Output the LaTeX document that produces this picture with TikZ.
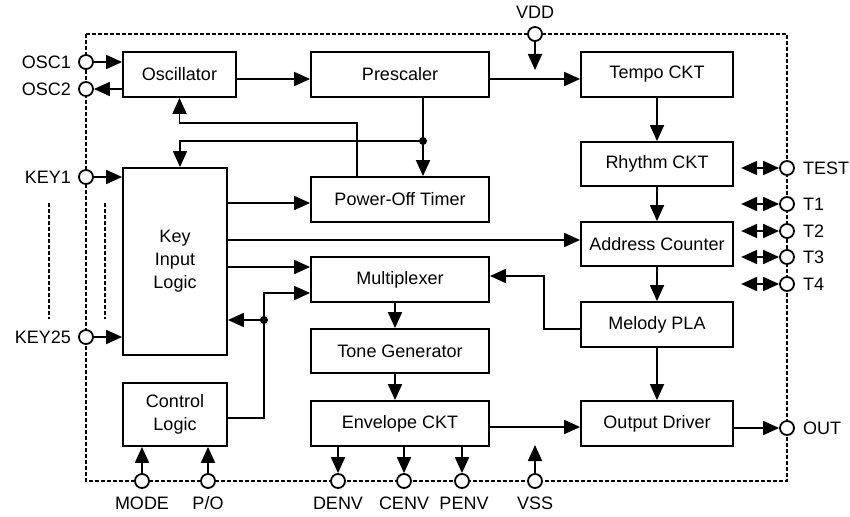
\documentclass[tikz,border=0pt]{standalone}
\usepackage{fontspec}
\setmainfont{Liberation Sans}
\usetikzlibrary{calc,arrows.meta}

\begin{document}
\begin{tikzpicture}[x=1pt,y=-1pt,line width=1.8pt,font=\fontsize{18}{23}\selectfont,
  blk/.style={draw,align=center,inner sep=0pt},
  pin/.style={draw,circle,fill=white,minimum size=14pt,inner sep=0pt},
  arr/.style={-{Triangle[length=16pt,width=14pt]}},
  biarr/.style={{Triangle[length=16pt,width=14pt]}-{Triangle[length=16pt,width=14pt]}},
  chipedge/.style={line width=1.5pt,dash pattern=on 4pt off 2pt}]
\useasboundingbox (0,0) rectangle (850,516);
% the chip outline
\draw[chipedge] (86,34) rectangle (787,481);
\draw[chipedge] (49,203) -- (49,319); \draw[chipedge] (105,203) -- (105,319);
% blocks
\node[blk,minimum width=113pt,minimum height=45pt] (osc) at (179.5,74.5) {Oscillator};
\node[blk,minimum width=178pt,minimum height=45pt] (pre) at (400,74.5) {Prescaler};
\node[blk,minimum width=152pt,minimum height=45pt] (tempo) at (657,74.5) {Tempo CKT};
\node[blk,minimum width=152pt,minimum height=44pt] (rhythm) at (657,164) {Rhythm CKT};
\node[blk,minimum width=178pt,minimum height=45pt] (pot) at (400,199.5) {Power-Off Timer};
\node[blk,minimum width=104pt,minimum height=187pt] (kil) at (175,261.5) {Key\\Input\\Logic};
\node[blk,minimum width=152pt,minimum height=44pt] (addr) at (657,244) {Address Counter};
\node[blk,minimum width=178pt,minimum height=45pt] (mux) at (400,279.5) {Multiplexer};
\node[blk,minimum width=152pt,minimum height=45pt] (mpla) at (657,324.5) {Melody PLA};
\node[blk,minimum width=178pt,minimum height=44pt] (tone) at (400,351) {Tone Generator};
\node[blk,minimum width=178pt,minimum height=45pt] (env) at (400,423.5) {Envelope CKT};
\node[blk,minimum width=152pt,minimum height=45pt] (outdrv) at (657,423.5) {Output Driver};
\node[blk,minimum width=104pt,minimum height=63pt] (ctrl) at (175,414.5) {Control\\Logic};
% pins on the outline
\node[pin] (osc1) at (86,62) {}; \node[anchor=east,xshift=-3pt] (osc1t) at (osc1.west) {OSC1};
\node[pin] (osc2) at (86,89) {}; \node[anchor=east,xshift=-3pt] (osc2t) at (osc2.west) {OSC2};
\node[pin] (key1) at (86,177) {}; \node[anchor=east,xshift=-3pt] (key1t) at (key1.west) {KEY1};
\node[pin] (key25) at (86,337) {}; \node[anchor=east,xshift=-3pt] (key25t) at (key25.west) {KEY25};
\node[pin] (vdd) at (535,34) {}; \node (vddt) at (535,12) {VDD};
\node[pin] (test) at (787,168) {}; \node[anchor=west,xshift=4pt] (testt) at (test.east) {TEST};
\node[pin] (t1) at (787,204) {}; \node[anchor=west,xshift=4pt] (t1t) at (t1.east) {T1};
\node[pin] (t2) at (787,231) {}; \node[anchor=west,xshift=4pt] (t2t) at (t2.east) {T2};
\node[pin] (t3) at (787,257) {}; \node[anchor=west,xshift=4pt] (t3t) at (t3.east) {T3};
\node[pin] (t4) at (787,284) {}; \node[anchor=west,xshift=4pt] (t4t) at (t4.east) {T4};
\node[pin] (out) at (787,428) {}; \node[anchor=west,xshift=4pt] (outt) at (out.east) {OUT};
\node[pin] (mode) at (142,481) {}; \node[anchor=base] (modet) at (142,509) {MODE};
\node[pin] (po) at (208,481) {}; \node[anchor=base] (pot2) at (208,509) {P/O};
\node[pin] (denv) at (338,481) {}; \node[anchor=base] (denvt) at (338,509) {DENV};
\node[pin] (cenv) at (404,481) {}; \node[anchor=base] (cenvt) at (404,509) {CENV};
\node[pin] (penv) at (462,481) {}; \node[anchor=base] (penvt) at (464,509) {PENV};
\node[pin] (vss) at (535,481) {}; \node[anchor=base] (vsst) at (535,509) {VSS};
% clock path
\draw[arr] (osc1) -- (osc1 -| osc.west);
\draw[arr] (osc2 -| osc.west) -- (osc2);
\draw[arr] (osc.east |- 0,79) -- (pre.west |- 0,79);
\draw[arr] (pre.east |- 0,79) -- (tempo.west |- 0,79);
\draw[arr] (vdd) -- (vdd |- 0,70);
\draw[arr] (tempo) -- (rhythm); \draw[arr] (rhythm) -- (addr);
\draw[arr] (addr) -- (mpla); \draw[arr] (mpla) -- (outdrv);
\draw[arr] (outdrv.east |- out) -- (out);
% test pins
\foreach \p in {test,t1,t2,t3,t4} \draw[biarr] ([xshift=-38pt]\p.west) -- (\p.west);
% prescaler and power-off feedback
\coordinate (j1) at (423,141); \coordinate (j3) at (357,123);
\draw[arr] (pre.south -| j1) -- (pot.north -| j1);
\draw[arr] (j1) -| ([xshift=5pt]kil.north);
\fill (j1) circle (4);
\draw[arr] (pot.north -| j3) -- (j3) -| (osc.south);
% key inputs
\draw[arr] (key1) -- (key1 -| kil.west);
\draw[arr] (key25) -- (key25 -| kil.west);
\draw[arr] (kil.east |- 0,203) -- (pot.west |- 0,203);
\draw[arr] (kil.east |- 0,240) -- (addr.west |- 0,240);
\draw[arr] (kil.east |- 0,267) -- (mux.west |- 0,267);
% control logic
\coordinate (j2) at (264,320);
\draw[arr] (ctrl.east |- 0,418) -| (j2) |- (mux.west |- 0,293);
\draw[arr] (j2) -- (kil.east |- j2);
\fill (j2) circle (4);
\draw[arr] (mode) -- (mode |- ctrl.south);
\draw[arr] (po) -- (po |- ctrl.south);
% tone path
\coordinate (j4) at (544,276);
\draw[arr] (mpla.west |- 0,329) -| (j4) -- (mux.east |- j4);
\draw[arr] ([xshift=-5pt]mux.south) -- ([xshift=-5pt]tone.north);
\draw[arr] ([xshift=-5pt]tone.south) -- ([xshift=-5pt]env.north);
\draw[arr] (env.east |- 0,427) -- (outdrv.west |- 0,427);
\foreach \p in {denv,cenv,penv} \draw[arr] (env.south -| \p) -- (\p);
\draw[arr] (vss) -- (vss |- 0,445);
\end{tikzpicture}
\end{document}
